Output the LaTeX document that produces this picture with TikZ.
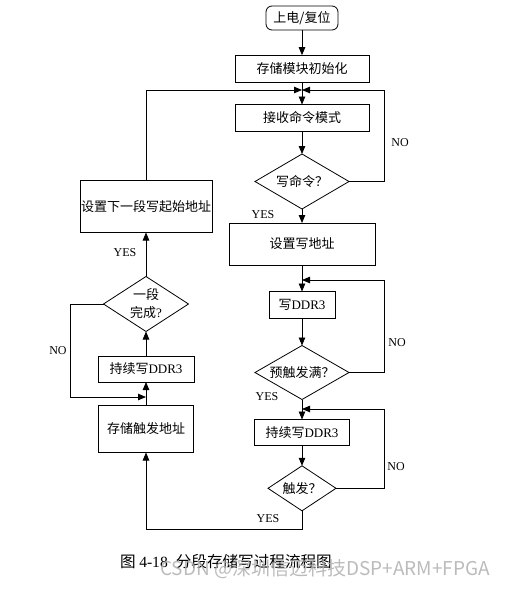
\documentclass[tikz,border=0pt]{standalone}
\usepackage{fontspec}
\setmainfont{Liberation Serif}
\newfontfamily\cjk{Noto Sans CJK SC}
\usetikzlibrary{arrows.meta,shapes.geometric}
\definecolor{cwmark}{RGB}{175,175,175}
\def \boxfont {\fontsize{13}{17}\selectfont}

\begin{document}
\begin{tikzpicture}[y=-1pt, x=1pt, inner sep=0pt, outer sep=0pt, line width=0.8pt,
  box/.style={draw=black, fill=white, font=\boxfont},
  decide/.style={draw=black, fill=white, diamond, aspect=1.7, align=center, font=\boxfont},
  arr/.style={-{Triangle[length=8pt,width=6.5pt]}},
  lbl/.style={font=\fontsize{12}{14}\selectfont}]
  \useasboundingbox (0,0) rectangle (510,589);

  % main column
  \node[box, rounded corners=6pt, minimum width=72pt, minimum height=24pt] (start) at (302,18) {\cjk 上电/复位};
  \node[box, minimum width=134pt, minimum height=27pt] (init) at (302,68.7) {\cjk 存储模块初始化};
  \node[box, minimum width=134pt, minimum height=27pt] (recv) at (302,118) {\cjk 接收命令模式};
  \node[decide, minimum width=94pt, minimum height=55pt] (iswrite) at (302,181.5) {\cjk 写命令？};
  \node[box, minimum width=146pt, minimum height=42pt] (setaddr) at (302,244) {\cjk 设置写地址};
  \node[box, minimum width=66pt, minimum height=27pt] (wddr) at (302,305) {{\cjk 写}DDR3};
  \node[decide, minimum width=94pt, minimum height=54pt] (prefull) at (302,372.5) {\cjk 预触发满？};
  \node[box, minimum width=95pt, minimum height=26pt] (contwddr) at (302,432.5) {{\cjk 持续写}DDR3};
  \node[decide, aspect=1.5, minimum width=68pt, minimum height=45pt] (trig) at (302,488.3) {\cjk 触发？};

  % left column
  \node[box, minimum width=132pt, minimum height=52pt] (nextaddr) at (146,206.5) {\cjk 设置下一段写起始地址};
  \node[decide, aspect=1.5, minimum width=85pt, minimum height=55pt, font=\fontsize{13}{18}\selectfont] (segdone) at (146,304) {{\cjk 一段}\\{\cjk 完成}?};
  \node[box, minimum width=96pt, minimum height=26pt] (contwddrb) at (146,369) {{\cjk 持续写}DDR3};
  \node[box, minimum width=95pt, minimum height=47pt] (trigaddr) at (146,429) {\cjk 存储触发地址};

  % merge points
  \coordinate (mtop) at (302,90);
  \coordinate (mwddr) at (302,280);
  \coordinate (mcont) at (302,409);
  \coordinate (mleft) at (146,397);
  \coordinate (rtop) at (384,90);
  \coordinate (rwddr) at (384,280);
  \coordinate (rcont) at (384,409);
  \coordinate (lno) at (70,397);
  \coordinate (bot) at (146,529);

  \draw[arr] (start) -- (init);
  \draw[arr] (init) -- (recv);
  \draw[arr] (recv) -- (iswrite);
  \draw[arr] (iswrite.east) -| (rtop) -- (mtop);
  \draw[arr] (iswrite) -- (setaddr);
  \draw[arr] (setaddr) -- (wddr);
  \draw[arr] (wddr) -- (prefull);
  \draw[arr] (prefull.east) -| (rwddr) -- (mwddr);
  \draw[arr] (prefull) -- (contwddr);
  \draw[arr] (contwddr) -- (trig);
  \draw[arr] (trig.east) -| (rcont) -- (mcont);
  \draw[arr] (trig.south) |- (bot) -- (trigaddr);
  \draw[arr] (trigaddr) -- (contwddrb);
  \draw[arr] (contwddrb) -- (segdone);
  \draw[arr] (segdone.west) -| (lno) -- (mleft);
  \draw[arr] (segdone) -- (nextaddr);
  \draw[arr] (nextaddr.north) |- (mtop);

  % labels
  \node[lbl] (no1) at (400,143) {NO};
  \node[lbl] (yes1) at (263,215) {YES};
  \node[lbl] (no2) at (397,343) {NO};
  \node[lbl] (yes2) at (267,397) {YES};
  \node[lbl] (no3) at (396,467) {NO};
  \node[lbl] (yes3) at (268,519) {YES};
  \node[lbl] (yes4) at (125,253) {YES};
  \node[lbl] (no4) at (58,351) {NO};

  % caption and watermark
  \node[font=\fontsize{15.6}{18}\selectfont] (caption) at (226,561.5) {{\cjk 图}\hspace{3.5pt}4-18\hspace{8pt}{\cjk 分段存储写过程流程图}};
  \node[text=cwmark, text opacity=0.85, font=\fontsize{19}{22}\selectfont] (wmark) at (325,569) {\cjk CSDN @深圳信迈科技DSP+ARM+FPGA};

\end{tikzpicture}
\end{document}
